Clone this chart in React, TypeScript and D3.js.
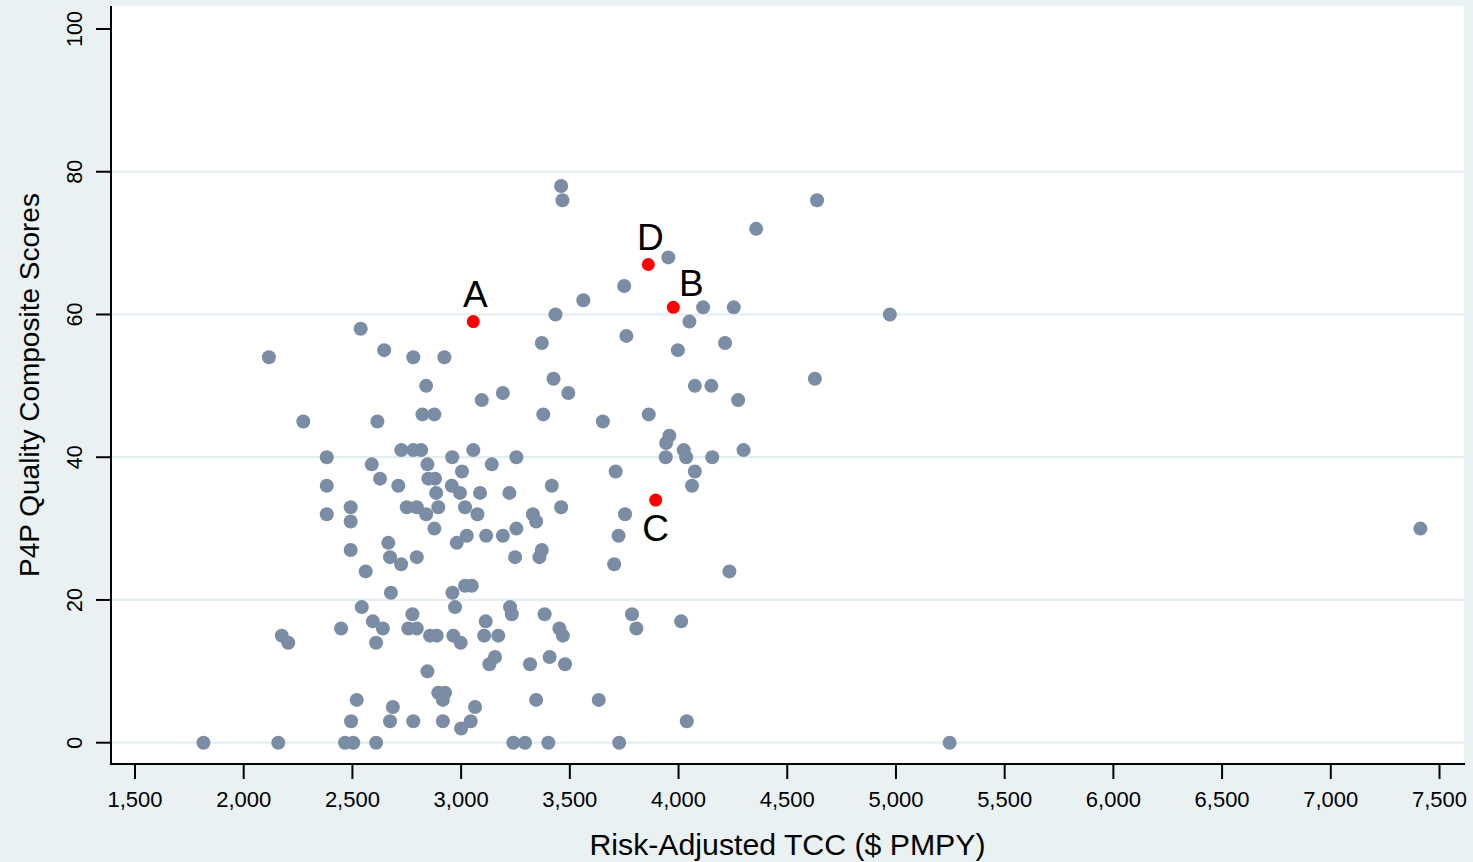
import React from "react";
import * as d3 from "d3";

// Risk-adjusted TCC ($ PMPY) vs P4P quality composite score, one pair per practice
const practices: [number, number][] = [
  [3460, 78], [3466, 76], [4637, 76], [4357, 72], [3953, 68], [3750, 64], [3562, 62],
  [4113, 61], [4254, 61], [3434, 60], [4972, 60], [4050, 59], [2538, 58], [3760, 57],
  [3371, 56], [4214, 56], [2646, 55], [3997, 55], [2116, 54], [2780, 54], [2923, 54],
  [3425, 51], [4627, 51], [2839, 50], [4075, 50], [4151, 50], [3192, 49], [3493, 49],
  [3095, 48], [4274, 48], [2822, 46], [2877, 46], [3378, 46], [3863, 46], [2274, 45],
  [2615, 45], [3652, 45], [3958, 43], [3943, 42], [2725, 41], [2780, 41], [2816, 41],
  [3056, 41], [4024, 41], [4299, 41], [2382, 40], [2959, 40], [3254, 40], [3941, 40],
  [4035, 40], [4155, 40], [2589, 39], [2845, 39], [3141, 39], [3004, 38], [3711, 38],
  [4075, 38], [2627, 37], [2849, 37], [2880, 37], [2382, 36], [2711, 36], [2957, 36],
  [3417, 36], [4062, 36], [2885, 35], [2995, 35], [3087, 35], [3222, 35], [2492, 33],
  [2750, 33], [2796, 33], [2895, 33], [3018, 33], [3460, 33], [2382, 32], [2839, 32],
  [3075, 32], [3330, 32], [3754, 32], [2492, 31], [3345, 31], [2877, 30], [3254, 30],
  [7412, 30], [3026, 29], [3115, 29], [3192, 29], [3724, 29], [2665, 28], [2980, 28],
  [2492, 27], [3371, 27], [2673, 26], [2796, 26], [3248, 26], [3360, 26], [2724, 25],
  [3704, 25], [2561, 24], [4234, 24], [3018, 22], [3049, 22], [2677, 21], [2960, 21],
  [2543, 19], [2972, 19], [3225, 19], [2776, 18], [3233, 18], [3384, 18], [3786, 18],
  [2594, 17], [3113, 17], [4012, 17], [2448, 16], [2640, 16], [2757, 16], [2796, 16],
  [3452, 16], [3806, 16], [2175, 15], [2857, 15], [2888, 15], [2964, 15], [3106, 15],
  [3171, 15], [3468, 15], [2205, 14], [2609, 14], [2998, 14], [3156, 12], [3407, 12],
  [3130, 11], [3317, 11], [3478, 11], [2845, 10], [2895, 7], [2926, 7], [2520, 6],
  [2916, 6], [3345, 6], [3633, 6], [2686, 5], [3064, 5], [2494, 3], [2673, 3],
  [2780, 3], [2916, 3], [3044, 3], [4038, 3], [3000, 2], [1815, 0], [2159, 0],
  [2466, 0], [2504, 0], [2609, 0], [3240, 0], [3294, 0], [3401, 0], [3727, 0],
  [5247, 0],
];

const highlightNames = ["A", "B", "C", "D"];
const highlightTcc = [3056, 3976, 3895, 3861];
const highlightScore = [59, 61, 34, 67];
const highlightLabelPos = ["above", "aboveRight", "below", "above"];

const xTicks = [1500, 2000, 2500, 3000, 3500, 4000, 4500, 5000, 5500, 6000, 6500, 7000, 7500];
const yTicks = [0, 20, 40, 60, 80, 100];
const gridValues = [0, 20, 40, 60, 80];

const xTitle = "Risk-Adjusted TCC ($ PMPY)";
const yTitle = "P4P Quality Composite Scores";

export default function App() {
  const W = 1473;
  const H = 862;
  const plotLeft = 111;
  const plotRight = 1464;
  const plotTop = 6;
  const plotBottom = 764;

  const x = d3.scaleLinear().domain([1500, 7500]).range([135, 1439.5]);
  const y = d3.scaleLinear().domain([0, 100]).range([742.7, 29]);
  const fmt = d3.format(",");

  const font = "'Liberation Sans', Arial, sans-serif";
  const bg = "#e9f1f3";
  const grid = "#e4edf0";
  const gray = "#7a8da5";

  const labelOffset = (pos: string) => {
    if (pos === "above") return { dx: 2, dy: -15 };
    if (pos === "aboveRight") return { dx: 18, dy: -11 };
    return { dx: 0, dy: 41 };
  };

  return (
    <svg
      width={W}
      height={H}
      style={{ position: "fixed", left: 0, top: 0, display: "block" }}
      fontFamily={font}
    >
      <rect x={0} y={0} width={W} height={H} fill={bg} />
      <rect x={plotLeft} y={plotTop} width={plotRight - plotLeft} height={plotBottom - plotTop} fill="#ffffff" />
      {gridValues.map((v) => (
        <line key={"g" + v} x1={plotLeft} x2={plotRight} y1={y(v)} y2={y(v)} stroke={grid} strokeWidth={2.2} />
      ))}

      {practices.map(([tcc, score], i) => (
        <circle key={"p" + i} cx={x(tcc)} cy={y(score)} r={7} fill={gray} />
      ))}

      {highlightNames.map((name, i) => {
        const cx = x(highlightTcc[i]);
        const cy = y(highlightScore[i]);
        const o = labelOffset(highlightLabelPos[i]);
        return (
          <g key={"h" + name}>
            <circle cx={cx} cy={cy} r={6.5} fill="#ff0000" />
            <text x={cx + o.dx} y={cy + o.dy} textAnchor="middle" fontSize={37} fill="#000">
              {name}
            </text>
          </g>
        );
      })}

      {/* axes */}
      <line x1={plotLeft} x2={plotLeft} y1={plotTop} y2={plotBottom + 1} stroke="#000" strokeWidth={2} />
      <line x1={plotLeft} x2={plotRight + 1} y1={plotBottom} y2={plotBottom} stroke="#000" strokeWidth={2} />

      {xTicks.map((t) => (
        <g key={"xt" + t}>
          <line x1={x(t)} x2={x(t)} y1={plotBottom} y2={plotBottom + 15} stroke="#000" strokeWidth={2} />
          <text x={x(t)} y={806.5} textAnchor="middle" fontSize={22} fill="#000">
            {fmt(t)}
          </text>
        </g>
      ))}

      {yTicks.map((t) => (
        <g key={"yt" + t}>
          <line x1={plotLeft - 15} x2={plotLeft} y1={y(t)} y2={y(t)} stroke="#000" strokeWidth={2} />
          <text
            transform={`translate(82,${y(t)}) rotate(-90)`}
            textAnchor="middle"
            fontSize={21.5}
            fill="#000"
          >
            {t}
          </text>
        </g>
      ))}

      <text
        x={(plotLeft + plotRight) / 2}
        y={855}
        textAnchor="middle"
        fontSize={29}
        fill="#000"
        textLength={396}
        lengthAdjust="spacingAndGlyphs"
      >
        {xTitle}
      </text>
      <text
        transform={`translate(38.5,${(plotTop + plotBottom) / 2}) rotate(-90)`}
        textAnchor="middle"
        fontSize={28}
        fill="#000"
      >
        {yTitle}
      </text>
    </svg>
  );
}
